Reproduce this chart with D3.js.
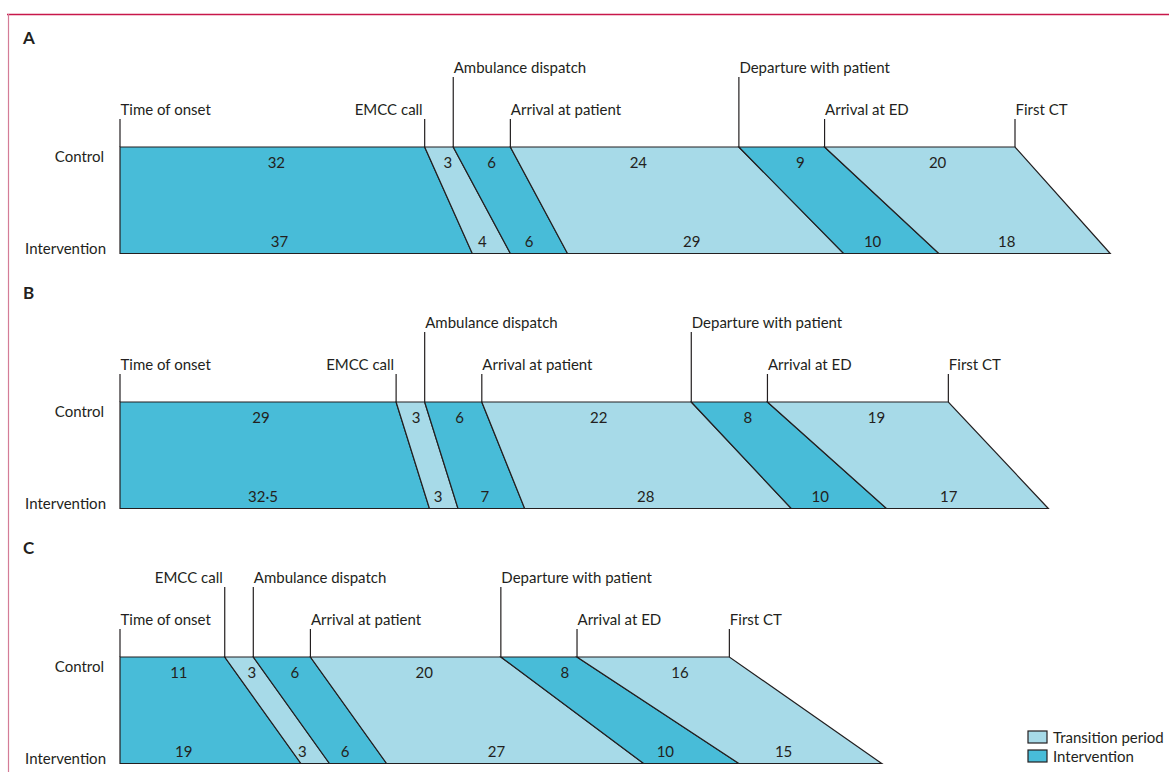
<!DOCTYPE html>
<html>
<head>
<meta charset="utf-8">
<script src="https://cdn.jsdelivr.net/npm/d3@7"></script>
<style>
  html, body { margin: 0; padding: 0; background: #fff; }
  svg { display: block; }
  text { font-family: Lato, "Open Sans", sans-serif; fill: #231f20; }
</style>
</head>
<body>
<svg id="chart" width="1169" height="772"></svg>
<script>
// ---- Data ----
const events = ["Time of onset", "EMCC call", "Ambulance dispatch", "Arrival at patient",
                "Departure with patient", "Arrival at ED", "First CT"];
const segmentTypes = ["Intervention", "Transition period", "Intervention",
                      "Transition period", "Intervention", "Transition period"];
const groups = ["Control", "Intervention"];
const panelLetters = ["A", "B", "C"];

const panelA_control      = [32, 3, 6, 24, 9, 20];
const panelA_intervention = [37, 4, 6, 29, 10, 18];
const panelB_control      = [29, 3, 6, 22, 8, 19];
const panelB_intervention = [32.5, 3, 7, 28, 10, 17];
const panelC_control      = [11, 3, 6, 20, 8, 16];
const panelC_intervention = [19, 3, 6, 27, 10, 15];

// label level of each event marker (high / low) per panel
const panelA_levels = ["low", "low", "high", "low", "high", "low", "low"];
const panelB_levels = ["low", "low", "high", "low", "high", "low", "low"];
const panelC_levels = ["low", "high", "high", "low", "high", "low", "low"];
const eventAnchors  = ["start", "end", "start", "start", "start", "start", "start"];

const legendItems = ["Transition period", "Intervention"];

const panels = [
  { letter: panelLetters[0], control: panelA_control, intervention: panelA_intervention, levels: panelA_levels },
  { letter: panelLetters[1], control: panelB_control, intervention: panelB_intervention, levels: panelB_levels },
  { letter: panelLetters[2], control: panelC_control, intervention: panelC_intervention, levels: panelC_levels }
];

// ---- Styles / layout ----
const colors = { "Intervention": "#48bcd8", "Transition period": "#a7dae8" };
const strokeCol = "#231f20";
const fontSize = 15;

const svg = d3.select("#chart");

// frame
svg.append("line").attr("x1", 7).attr("x2", 1169).attr("y1", 14.5).attr("y2", 14.5)
  .attr("stroke", "#c8174a").attr("stroke-width", 1.3);
svg.append("line").attr("x1", 8.5).attr("x2", 8.5).attr("y1", 14).attr("y2", 772)
  .attr("stroke", "#d47c97").attr("stroke-width", 1.2);

const x = d3.scaleLinear().domain([0, 94]).range([120, 1015]);
const panelY = d3.scaleLinear().domain([0, 1]).range([0, 255]); // panel vertical offset
const barTop = 147, barBottom = 253.5;
const yRow = d3.scalePoint().domain(groups).range([barTop, barBottom]);

function cumulative(arr) {
  const c = [0];
  arr.forEach(v => c.push(c[c.length - 1] + v));
  return c;
}

panels.forEach((p, pi) => {
  const g = svg.append("g").attr("transform", `translate(0,${panelY(pi)})`);
  const cc = cumulative(p.control);
  const ci = cumulative(p.intervention);
  const yT = yRow("Control"), yB = yRow("Intervention");

  // panel letter
  g.append("text").attr("x", 23).attr("y", 43.5)
    .attr("font-size", 17).attr("font-weight", "bold").text(p.letter);

  // row labels
  g.append("text").attr("x", 104).attr("y", yT + 15)
    .attr("text-anchor", "end").attr("font-size", fontSize).text(groups[0]);
  g.append("text").attr("x", 106).attr("y", yB + 0.5)
    .attr("text-anchor", "end").attr("font-size", fontSize).text(groups[1]);

  // segments
  p.control.forEach((v, i) => {
    const pts = [[x(cc[i]), yT], [x(cc[i + 1]), yT], [x(ci[i + 1]), yB], [x(ci[i]), yB]];
    g.append("path")
      .attr("d", d3.line()(pts) + "Z")
      .attr("fill", colors[segmentTypes[i]])
      .attr("stroke", strokeCol).attr("stroke-width", 1.2)
      .attr("stroke-linejoin", "miter");
  });

  // value labels
  const tC = 0.17, tI = 0.83;
  p.control.forEach((v, i) => {
    const mTop = (x(cc[i]) + x(cc[i + 1])) / 2;
    const mBot = (x(ci[i]) + x(ci[i + 1])) / 2;
    const ti = i === 0 ? 0.3 : tI;
    g.append("text").attr("x", mTop + (mBot - mTop) * tC).attr("y", yT + 21)
      .attr("text-anchor", "middle").attr("font-size", fontSize)
      .text(String(v).replace(".", "·"));
    const iv = p.intervention[i];
    g.append("text").attr("x", mTop + (mBot - mTop) * ti).attr("y", yB - 6.5)
      .attr("text-anchor", "middle").attr("font-size", fontSize)
      .text(String(iv).replace(".", "·"));
  });

  // event markers
  events.forEach((ev, i) => {
    const ex = x(cc[i]);
    const high = p.levels[i] === "high";
    const tickTop = high ? 77 : 119;
    const textY = high ? 73 : 115;
    g.append("line").attr("x1", ex).attr("x2", ex).attr("y1", tickTop).attr("y2", yT)
      .attr("stroke", strokeCol).attr("stroke-width", 1.2);
    g.append("text")
      .attr("x", eventAnchors[i] === "end" ? ex - 2 : ex + 0.5)
      .attr("y", textY)
      .attr("text-anchor", eventAnchors[i])
      .attr("font-size", fontSize)
      .text(ev);
  });
});

// legend
const lg = svg.append("g");
legendItems.forEach((item, i) => {
  const y0 = 731 + i * 19;
  lg.append("rect").attr("x", 1028).attr("y", y0).attr("width", 19).attr("height", 12)
    .attr("fill", colors[item]).attr("stroke", strokeCol).attr("stroke-width", 1.2);
  lg.append("text").attr("x", 1053).attr("y", y0 + 12.3)
    .attr("font-size", fontSize).text(item);
});
</script>
</body>
</html>
